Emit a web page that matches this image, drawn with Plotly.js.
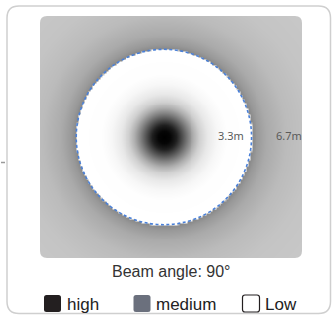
<!DOCTYPE html>
<html><head><meta charset="utf-8">
<script src="https://cdn.plot.ly/plotly-3.0.1.min.js"></script>
<style>html,body{margin:0;padding:0;background:#fff}#chart{width:332px;height:315px}</style>
</head><body><div id="chart"></div>
<script>
// Radial light-intensity profile (metres from beam centre -> gray level 0..255)
const profileRadius = [0, 0.3, 0.6, 0.9, 1.2, 1.5, 1.8, 2.2, 2.7, 3.2, 4.45, 4.46, 4.7, 5.2, 6.2, 7.5, 9.5];
const profileGray   = [0, 5, 30, 80, 130, 175, 208, 232, 247, 254, 255, 136, 152, 170, 187, 196, 200];
const beamRadius = 4.45;
const distanceLabels = ['3.3m', '6.7m'];
const distanceLabelX = [3.4, 6.35];
const legendLabels = ['high', 'medium', 'Low'];
const legendColors = ['#231f20', '#6b707d', '#ffffff'];
const chartTitle = 'Beam angle: 90°';

const W = 332, H = 315, L = 40, R = 30, T = 16, B = 57;
const PW = W - L - R, PH = H - T - B;
const xRange = [-6.29, 7.01], yRange = [-6.14, 6.14];

function grayAt(r) {
  if (r <= profileRadius[0]) return profileGray[0];
  for (let i = 1; i < profileRadius.length; i++) {
    if (r <= profileRadius[i]) {
      const t = (r - profileRadius[i-1]) / (profileRadius[i] - profileRadius[i-1]);
      return profileGray[i-1] + t * (profileGray[i] - profileGray[i-1]);
    }
  }
  return profileGray[profileGray.length - 1];
}
const gx = [], gy = [], gz = [];
for (let x = -6.4; x <= 7.11; x += 0.1) gx.push(+x.toFixed(2));
for (let y = -6.3; y <= 6.31; y += 0.1) gy.push(+y.toFixed(2));
for (const y of gy) gz.push(gx.map(x => grayAt(Math.hypot(x, y))));

const px = p => (p - L) / PW;
const py = p => (H - B - p) / PH;
function roundRect(x0, y0, x1, y1, r) {
  const a = px(x0), b = px(x1), c = py(y0), d = py(y1);
  const rx = r / PW, ry = r / PH;
  return `M${a+rx},${c} L${b-rx},${c} Q${b},${c} ${b},${c-ry} L${b},${d+ry} Q${b},${d} ${b-rx},${d} ` +
         `L${a+rx},${d} Q${a},${d} ${a},${d+ry} L${a},${c-ry} Q${a},${c} ${a+rx},${c} Z`;
}

const traces = [
  {type: 'heatmap', x: gx, y: gy, z: gz, zmin: 0, zmax: 255, zsmooth: 'best',
   colorscale: [[0, '#000000'], [1, '#ffffff']], showscale: false, hoverinfo: 'skip'},
  {type: 'scatter', mode: 'text', x: distanceLabelX, y: [0, 0], text: distanceLabels,
   textfont: {family: 'Noto Sans', size: 11, color: '#5a5a5a'}, hoverinfo: 'skip', showlegend: false}
];

const shapes = [];
shapes.push({type: 'path', xref: 'paper', yref: 'paper', path: roundRect(7, 6, 330.5, 313.5, 12),
  line: {color: '#cfcfcf', width: 1.5}, fillcolor: 'rgba(0,0,0,0)', layer: 'below'});
const rx = 7 / PW, ry = 7 / PH;
[[0, 1, 1, -1], [1, 1, -1, -1], [0, 0, 1, 1], [1, 0, -1, 1]].forEach(([cx, cy, sx, sy]) => {
  shapes.push({type: 'path', xref: 'paper', yref: 'paper',
    path: `M${cx},${cy} L${cx + sx*rx},${cy} Q${cx},${cy} ${cx},${cy + sy*ry} Z`,
    fillcolor: '#ffffff', line: {width: 0}, layer: 'above'});
});
shapes.push({type: 'circle', xref: 'x', yref: 'y', x0: -beamRadius, x1: beamRadius, y0: -beamRadius, y1: beamRadius,
  line: {color: '#4a80d8', width: 1.6, dash: '3px,2.5px'}, layer: 'above'});
shapes.push({type: 'line', xref: 'paper', yref: 'paper', x0: px(1), x1: px(5), y0: py(162.5), y1: py(162.5),
  line: {color: '#9a9a9a', width: 1.5}});

const annotations = [
  {xref: 'paper', yref: 'paper', x: px(170.5), y: py(271.5), text: chartTitle, showarrow: false,
   xanchor: 'center', yanchor: 'middle', font: {family: 'Liberation Sans, Arial', size: 16, color: '#333333'}}
];
const legendX = [44, 133.5, 242.5];
legendLabels.forEach((lab, i) => {
  const x0 = legendX[i];
  shapes.push({type: 'path', xref: 'paper', yref: 'paper', path: roundRect(x0, 295, x0 + 17, 312, 2.5),
    fillcolor: legendColors[i], line: {color: i === 2 ? '#231f20' : legendColors[i], width: i === 2 ? 1.2 : 0}});
  annotations.push({xref: 'paper', yref: 'paper', x: px(x0 + 20.5), y: py(304), text: lab, showarrow: false,
    xanchor: 'left', yanchor: 'middle', font: {family: 'Liberation Sans, Arial', size: 17, color: '#222222'}});
});

const layout = {
  width: W, height: H, margin: {l: L, r: R, t: T, b: B, pad: 0},
  paper_bgcolor: '#ffffff', plot_bgcolor: '#bdbdbd', showlegend: false,
  xaxis: {range: xRange, visible: false, fixedrange: true},
  yaxis: {range: yRange, visible: false, fixedrange: true},
  shapes, annotations
};
Plotly.newPlot('chart', traces, layout, {staticPlot: true, displayModeBar: false});
</script></body></html>
